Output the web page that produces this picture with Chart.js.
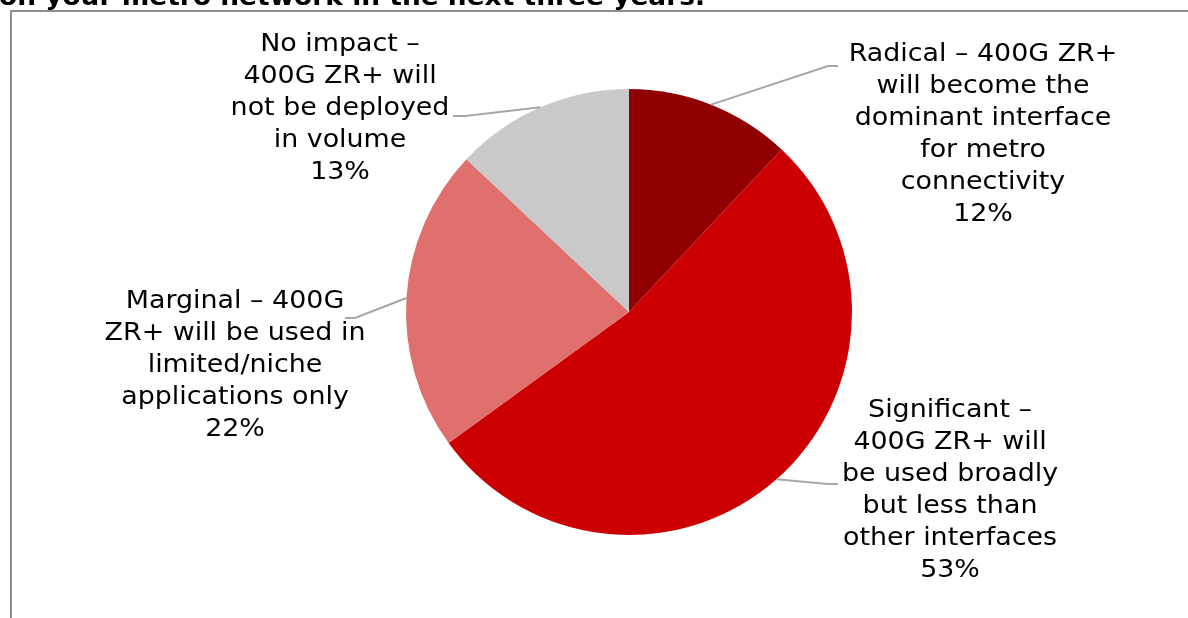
<!DOCTYPE html>
<html>
<head>
<meta charset="utf-8">
<script src="https://cdn.jsdelivr.net/npm/chart.js@4/dist/chart.umd.min.js"></script>
<style>
	html, body { margin: 0; padding: 0; background: #ffffff; }
	#wrap { width: 1188px; height: 618px; position: relative; }
</style>
</head>
<body>
<div id="wrap"><canvas id="chart" width="1188" height="618"></canvas></div>
<script>
const TITLE = "on your metro network in the next three years.";

const categories = [
	["Radical \u2013 400G ZR+", "will become the", "dominant interface", "for metro", "connectivity"],
	["Significant \u2013", "400G ZR+ will", "be used broadly", "but less than", "other interfaces"],
	["Marginal \u2013 400G", "ZR+ will be used in", "limited/niche", "applications only"],
	["No impact \u2013", "400G ZR+ will", "not be deployed", "in volume"],
];
const values = [12, 53, 22, 13];
const colors = ["#900000", "#cc0000", "#e0706e", "#c9c9c9"];

// label boxes: centre x, first line y, elbow x, elbow y, end x of the leader
const labelLayout = [
	{ x: 983, y: 55, ex: 828, ey: 66, tx: 838 },
	{ x: 950, y: 411, ex: 828, ey: 484, tx: 838 },
	{ x: 235, y: 302, ex: 355, ey: 318, tx: 345 },
	{ x: 340, y: 45, ex: 465, ey: 116, tx: 453 },
];

const LINE_H = 32;
const FONT = "24px 'DejaVu Sans', Verdana, sans-serif";
const STRETCH = 1.12; // source text is set wider than DejaVu
const TITLE_W = 706;

const framePlugin = {
	id: "frame",
	beforeDraw(chart) {
		const { ctx, width, height } = chart;
		ctx.save();
		ctx.fillStyle = "#ffffff";
		ctx.fillRect(0, 0, width, height);
		ctx.strokeStyle = "#8c8c8c";
		ctx.lineWidth = 2;
		ctx.beginPath();
		ctx.moveTo(11, height);
		ctx.lineTo(11, 11);
		ctx.lineTo(width, 11);
		ctx.stroke();

		ctx.fillStyle = "#000000";
		ctx.font = "bold 25px 'DejaVu Sans', Verdana, sans-serif";
		ctx.textAlign = "left";
		ctx.textBaseline = "alphabetic";
		const w = ctx.measureText(TITLE).width;
		ctx.translate(-1, 5);
		ctx.scale(TITLE_W / w, 1);
		ctx.fillText(TITLE, 0, 0);
		ctx.restore();
	},
};

const labelPlugin = {
	id: "sliceLabels",
	afterDatasetsDraw(chart) {
		const { ctx } = chart;
		const meta = chart.getDatasetMeta(0);
		meta.data.forEach((arc, i) => {
			const lay = labelLayout[i];
			const mid = (arc.startAngle + arc.endAngle) / 2;
			const ax = arc.x + Math.cos(mid) * arc.outerRadius;
			const ay = arc.y + Math.sin(mid) * arc.outerRadius;
			ctx.save();
			ctx.strokeStyle = "#a6a6a6";
			ctx.lineWidth = 2;
			ctx.beginPath();
			ctx.moveTo(ax, ay);
			ctx.lineTo(lay.ex, lay.ey);
			ctx.lineTo(lay.tx, lay.ey);
			ctx.stroke();
			ctx.restore();

			const lines = [...categories[i], values[i] + "%"];
			lines.forEach((t, k) => {
				ctx.save();
				ctx.fillStyle = "#000000";
				ctx.font = FONT;
				ctx.textAlign = "center";
				ctx.textBaseline = "middle";
				ctx.translate(lay.x, lay.y + k * LINE_H);
				ctx.scale(STRETCH, 1);
				ctx.fillText(t, 0, 0);
				ctx.restore();
			});
		});
	},
};

new Chart(document.getElementById("chart"), {
	type: "pie",
	data: {
		labels: categories.map((c) => c.join(" ")),
		datasets: [
			{
				data: values,
				backgroundColor: colors,
				borderWidth: 0,
			},
		],
	},
	options: {
		responsive: false,
		animation: false,
		layout: { padding: { left: 406, right: 336, top: 89, bottom: 83 } },
		plugins: {
			legend: { display: false },
			tooltip: { enabled: false },
			title: { display: false },
		},
	},
	plugins: [framePlugin, labelPlugin],
});
</script>
</body>
</html>
